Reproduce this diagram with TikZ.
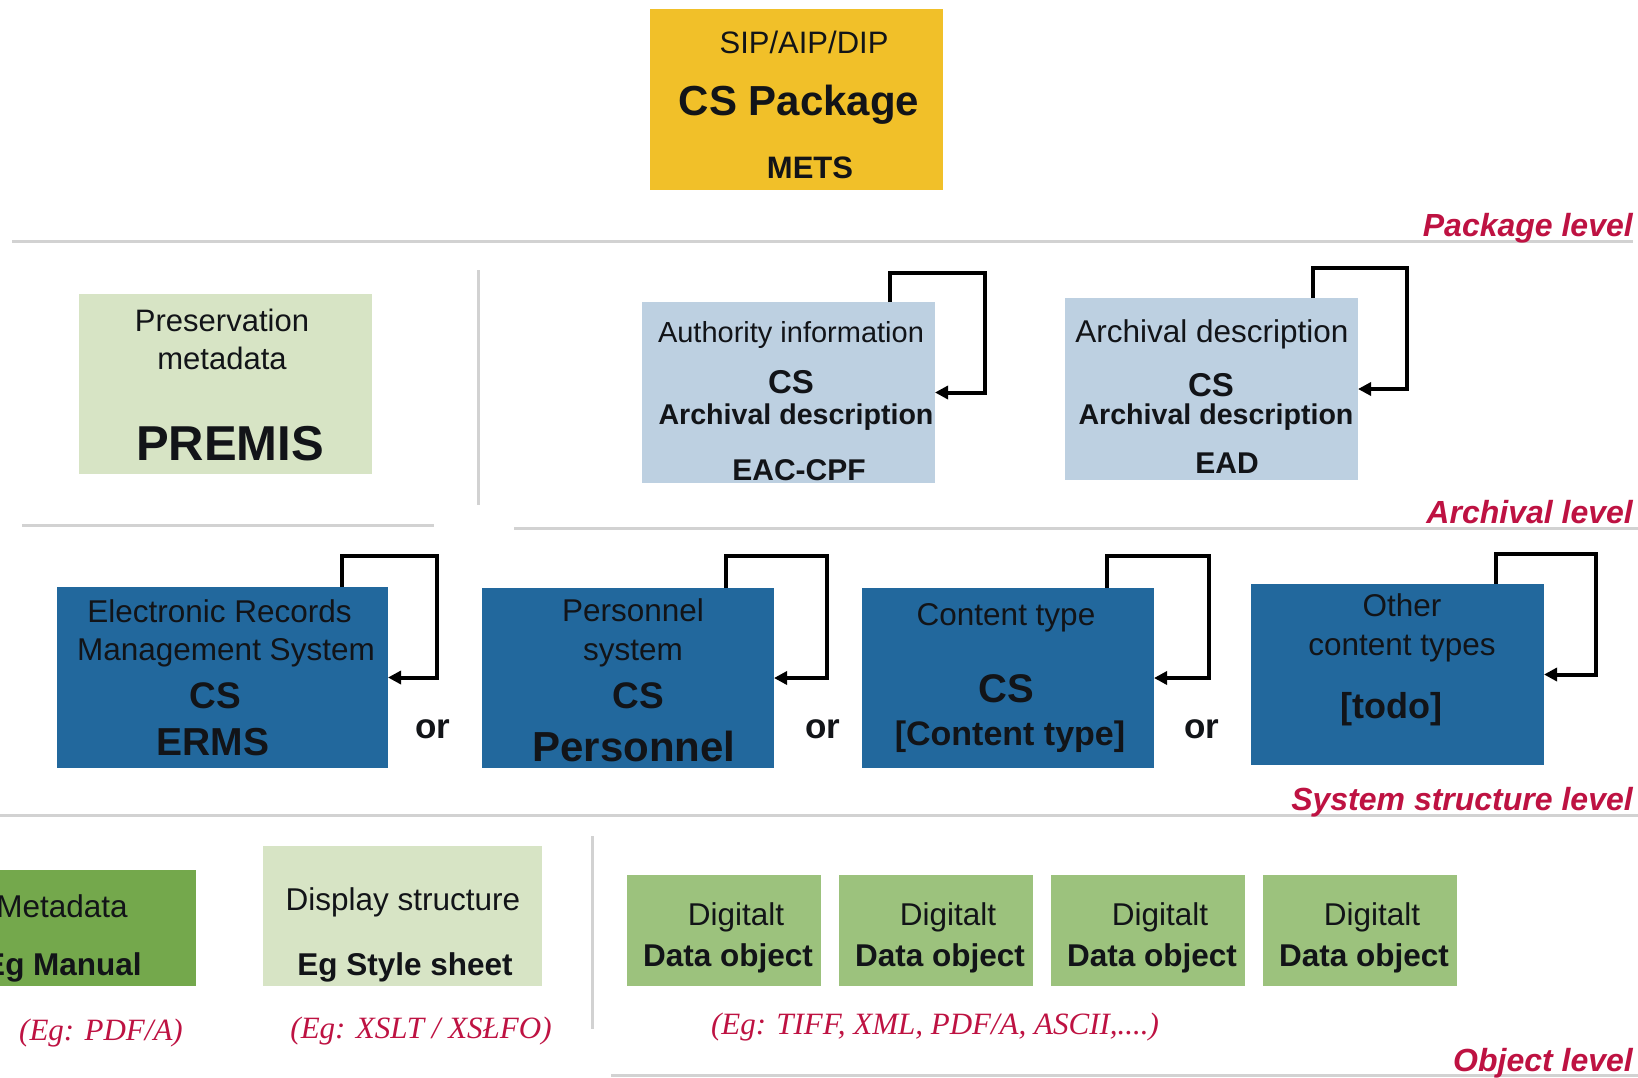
\documentclass[tikz,border=0pt]{standalone}
\usepackage{fontspec}
\setmainfont{Liberation Sans}
\newfontfamily\serifface{Liberation Serif}
\usetikzlibrary{arrows.meta,calc}
\newcommand{\fsz}[1]{\fontsize{#1pt}{#1pt}\selectfont}
\definecolor{cYellow}{RGB}{241,192,41}
\definecolor{cPaleGreen}{RGB}{215,228,197}
\definecolor{cLightBlue}{RGB}{189,208,225}
\definecolor{cDarkBlue}{RGB}{34,104,157}
\definecolor{cMidGreen}{RGB}{116,168,76}
\definecolor{cObjGreen}{RGB}{156,194,125}
\definecolor{cRule}{RGB}{210,210,210}
\definecolor{cRed}{RGB}{190,18,66}
\definecolor{cText}{RGB}{18,20,24}
\tikzset{
  box/.style={inner sep=0pt, outer sep=0pt, draw=none},
  txt/.style={inner sep=0pt, anchor=base, text=cText},
  lvl/.style={inner sep=0pt, anchor=base east, text=cRed, font={\fsz{32}\bfseries\itshape}},
  note/.style={inner sep=0pt, anchor=base, text=cRed, font={\fsz{31}\serifface\itshape}},
  rule/.style={draw=cRule, line width=3pt},
  loopln/.style={draw=black, line width=4pt, line join=miter, -{Triangle[length=13pt,width=13pt]}}
}
\begin{document}
\begin{tikzpicture}[x=1pt,y=-1pt]
\clip (0,0) rectangle (1638,1077);
\fill[white] (0,0) rectangle (1638,1077);

% rules
\draw[rule] (12,241) -- (1633,241);
\draw[rule] (22,525) -- (434,525);
\draw[rule] (514,528) -- (1638,528);
\draw[rule] (0,815) -- (1638,815);
\draw[rule] (611,1075) -- (1638,1075);
\draw[rule] (478,270) -- (478,505);
\draw[rule] (592,836) -- (592,1029);

% level labels
\node[lvl] (lpkg) at (1633,236) {Package level};
\node[lvl] (larc) at (1633,523) {Archival level};
\node[lvl] (lsys) at (1633,810) {System structure level};
\node[lvl] (lobj) at (1633,1071) {Object level};

% package
\node[box, fill=cYellow, minimum width=293pt, minimum height=181pt] (pkg) at (796.5,99.5) {};
\node[txt, font={\fsz{31}}] (pkgA) at (804,53) {SIP/AIP/DIP};
\node[txt, font={\fsz{42}\bfseries}] (pkgB) at (799,115) {CS Package};
\node[txt, font={\fsz{31}\bfseries}] (pkgC) at (810,178) {METS};

% archival level
\node[box, fill=cPaleGreen, minimum width=293pt, minimum height=180pt] (premis) at (225.5,384) {};
\node[txt, font={\fsz{31}}] (premA) at (222,331) {Preservation};
\node[txt, font={\fsz{31}}] (premB) at (222,369) {metadata};
\node[txt, font={\fsz{49}\bfseries}] (premC) at (230,460) {PREMIS};

\node[box, fill=cLightBlue, minimum width=293pt, minimum height=181pt] (auth) at (788.5,392.5) {};
\node[txt, font={\fsz{29}}] (authA) at (791,342) {Authority information};
\node[txt, font={\fsz{33}\bfseries}] (authB) at (791,393) {CS};
\node[txt, font={\fsz{28.6}\bfseries}] (authC) at (796,424) {Archival description};
\node[txt, font={\fsz{30}\bfseries}] (authD) at (799,480) {EAC-CPF};

\node[box, fill=cLightBlue, minimum width=293pt, minimum height=182pt] (archd) at (1211.5,389) {};
\node[txt, font={\fsz{31.5}}] (archA) at (1212,342) {Archival description};
\node[txt, font={\fsz{33}\bfseries}] (archB) at (1211,396) {CS};
\node[txt, font={\fsz{28.6}\bfseries}] (archC) at (1216,424) {Archival description};
\node[txt, font={\fsz{30}\bfseries}] (archD) at (1227,473) {EAD};

\draw[loopln] ($(auth.north east)+(-45,0)$) -- ++(0,-29) -| ($(auth.east)+(50,0)$) -- (auth.east);
\draw[loopln] ($(archd.north east)+(-45,0)$) -- ++(0,-30) -| ($(archd.east)+(49,0)$) -- (archd.east);

% system structure level
\node[box, fill=cDarkBlue, minimum width=331pt, minimum height=181pt] (erms) at (222.5,677.5) {};
\node[txt, font={\fsz{31.5}}] (ermsA) at (219.5,622) {Electronic Records};
\node[txt, font={\fsz{31.5}}] (ermsB) at (226,660) {Management System};
\node[txt, font={\fsz{37}\bfseries}] (ermsC) at (215,708) {CS};
\node[txt, font={\fsz{39}\bfseries}] (ermsD) at (213,755) {ERMS};

\node[box, fill=cDarkBlue, minimum width=292pt, minimum height=180pt] (pers) at (628,678) {};
\node[txt, font={\fsz{31.5}}] (persA) at (633,621) {Personnel};
\node[txt, font={\fsz{31.5}}] (persB) at (633,660) {system};
\node[txt, font={\fsz{37}\bfseries}] (persC) at (638,708) {CS};
\node[txt, font={\fsz{42}\bfseries}] (persD) at (634,761) {Personnel};

\node[box, fill=cDarkBlue, minimum width=292pt, minimum height=180pt] (cont) at (1008,678) {};
\node[txt, font={\fsz{31.5}}] (contA) at (1006,625) {Content type};
\node[txt, font={\fsz{40}\bfseries}] (contB) at (1006,702) {CS};
\node[txt, font={\fsz{34}\bfseries}] (contC) at (1010,745) {[Content type]};

\node[box, fill=cDarkBlue, minimum width=293pt, minimum height=181pt] (other) at (1397.5,674.5) {};
\node[txt, font={\fsz{31.5}}] (othA) at (1402,616) {Other};
\node[txt, font={\fsz{31.5}}] (othB) at (1402,655) {content types};
\node[txt, font={\fsz{36}\bfseries}] (othC) at (1391,718) {[todo]};

\draw[loopln] ($(erms.north east)+(-46,0)$) -- ++(0,-31) -| ($(erms.east)+(49,0)$) -- (erms.east);
\draw[loopln] ($(pers.north east)+(-48,0)$) -- ++(0,-32) -| ($(pers.east)+(53,0)$) -- (pers.east);
\draw[loopln] ($(cont.north east)+(-47,0)$) -- ++(0,-32) -| ($(cont.east)+(55,0)$) -- (cont.east);
\draw[loopln] ($(other.north east)+(-48,0)$) -- ++(0,-30) -| ($(other.east)+(52,0)$) -- (other.east);

\node[txt, font={\fsz{35}\bfseries}] (or1) at (433,738) {or};
\node[txt, font={\fsz{35}\bfseries}] (or2) at (823,738) {or};
\node[txt, font={\fsz{35}\bfseries}] (or3) at (1202,738) {or};

% object level
\node[box, fill=cMidGreen, minimum width=276pt, minimum height=116pt] (meta) at (58,928) {};
\node[txt, font={\fsz{31.5}}] (metaA) at (62,917) {Metadata};
\node[txt, font={\fsz{31.5}\bfseries}] (metaB) at (63,975) {Eg Manual};

\node[box, fill=cPaleGreen, minimum width=279pt, minimum height=140pt] (disp) at (402.5,916) {};
\node[txt, font={\fsz{31.5}}] (dispA) at (403,910) {Display structure};
\node[txt, font={\fsz{31.5}\bfseries}] (dispB) at (405,975) {Eg Style sheet};

\foreach \i/\cx in {1/724,2/936,3/1148,4/1360}{
  \node[box, fill=cObjGreen, minimum width=194pt, minimum height=111pt] (dig\i) at (\cx,930.5) {};
  \node[txt, font={\fsz{31.5}}] (digA\i) at ($(dig\i.center)+(12,-5.5)$) {Digitalt};
  \node[txt, font={\fsz{31.5}\bfseries}] (digB\i) at ($(dig\i.center)+(4,35.5)$) {Data object};
}

\node[note] (n1) at (101,1040) {(Eg: PDF/A)};
\node[note] (n2) at (421,1038) {(Eg: XSLT / XSŁFO)};
\node[note] (n3) at (935,1034) {(Eg: TIFF, XML, PDF/A, ASCII,....)};
\end{tikzpicture}
\end{document}
